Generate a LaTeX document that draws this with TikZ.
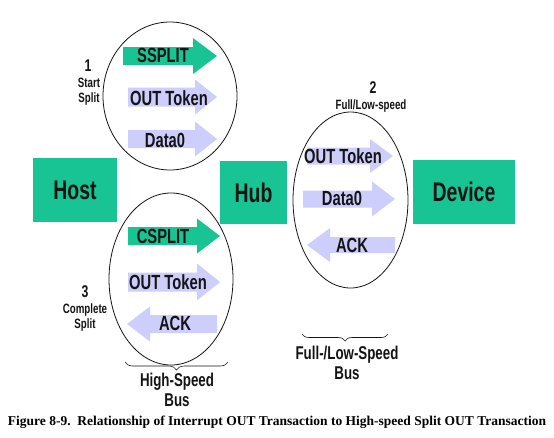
\documentclass[tikz,border=0pt]{standalone}
\usepackage{fontspec}
\setmainfont{Liberation Sans}
\newfontfamily\nar[FakeStretch=0.72]{Liberation Sans}
\newfontfamily\capfont{Liberation Serif}
\usetikzlibrary{decorations.pathreplacing}
\definecolor{grn}{RGB}{24,196,148}
\definecolor{lav}{RGB}{206,206,252}
\definecolor{ink}{RGB}{20,20,20}
\newcommand\pktarrow[7]{\fill[#7] (#1,#4-#5) -- (#2,#4-#5) -- (#2,#4-#6) -- (#3,#4) -- (#2,#4+#6) -- (#2,#4+#5) -- (#1,#4+#5) -- cycle;}
\tikzset{
  box/.style={fill=grn, inner sep=0, text=ink, font=\nar\bfseries\fontsize{27}{27}\selectfont},
  pkt/.style={inner sep=0, text=ink, font=\nar\bfseries\fontsize{20.5}{20.5}\selectfont},
  num/.style={inner sep=0, text=ink, font=\nar\bfseries\fontsize{17}{17}\selectfont},
  small/.style={inner sep=0, text=ink, align=center, font=\nar\bfseries\fontsize{13.5}{15}\selectfont},
  bus/.style={inner sep=0, text=ink, align=center, font=\nar\bfseries\fontsize{18.5}{19.5}\selectfont},
  oval/.style={draw=ink, line width=0.8pt},
  brc/.style={draw=ink, line width=0.6pt, decorate, decoration={brace, mirror, amplitude=8pt}}
}
\begin{document}
\begin{tikzpicture}[x=1pt, y=-1pt]
\useasboundingbox[fill=white] (0,0) rectangle (554,437);
% boxes
\node[box, minimum width=84pt, minimum height=64pt] (host) at (75,190) {Host};
\node[box, minimum width=67pt, minimum height=63pt] (hub) at (253.5,192.5) {Hub};
\node[box, minimum width=102pt, minimum height=64pt] (dev) at (464,192) {Device};
% upper ellipse arrows
\pktarrow{123}{193}{217}{56}{9}{18}{grn}
\pktarrow{128}{195}{217}{97}{9.5}{17.5}{lav}
\pktarrow{128}{195}{217}{139}{9}{17.5}{lav}
% lower ellipse arrows
\pktarrow{128}{197}{220}{236}{9}{17.5}{grn}
\pktarrow{128}{197}{220}{282}{9.5}{18.5}{lav}
\pktarrow{217}{150}{127}{324}{9}{17.5}{lav}
% right ellipse arrows
\pktarrow{307}{370}{393}{156}{8.5}{17}{lav}
\pktarrow{303}{372}{395}{199}{8.5}{17.5}{lav}
\pktarrow{395}{330}{307}{245}{8}{17}{lav}
% ellipses
\draw[oval] (170,96) ellipse [x radius=67, y radius=74];
\draw[oval] (171,279) ellipse [x radius=62, y radius=86];
\draw[oval] (350.5,200) ellipse [x radius=57.5, y radius=88];
% packet labels
\node[pkt] (ss) at (163,55) {SSPLIT};
\node[pkt] (ot1) at (169,98) {OUT Token};
\node[pkt] (d1) at (165,140) {Data0};
\node[pkt] (cs) at (163,236) {CSPLIT};
\node[pkt] (ot3) at (168,282) {OUT Token};
\node[pkt] (ack3) at (175,323) {ACK};
\node[pkt] (ot2) at (343,156) {OUT Token};
\node[pkt] (d2) at (342,198) {Data0};
\node[pkt] (ack2) at (352,245) {ACK};
% phase labels
\node[num] (n1) at (88,66) {1};
\node[small] (l1) at (89,92) {Start\\Split};
\node[num] (n2) at (373,88) {2};
\node[small] (l2) at (371,106) {Full/Low-speed};
\node[num] (n3) at (85,292) {3};
\node[small] (l3) at (85,318) {Complete\\Split};
% braces
\coordinate (b1l) at (125,362);
\coordinate (b1r) at (228,362);
\draw[brc] (b1l) -- (b1r);
\node[bus] (hs) at (177,390) {High-Speed\\Bus};
\coordinate (b2l) at (302,334);
\coordinate (b2r) at (388,334);
\draw[brc, decoration={amplitude=7pt}] (b2l) -- (b2r);
\node[bus] (fs) at (347,363) {Full-/Low-Speed\\Bus};
% caption
\node[inner sep=0, font=\capfont\bfseries\fontsize{13.5}{13.5}\selectfont] (cap) at (277,422) {Figure 8-9.\ \ Relationship of Interrupt OUT Transaction to High-speed Split OUT Transaction};
\end{tikzpicture}
\end{document}
